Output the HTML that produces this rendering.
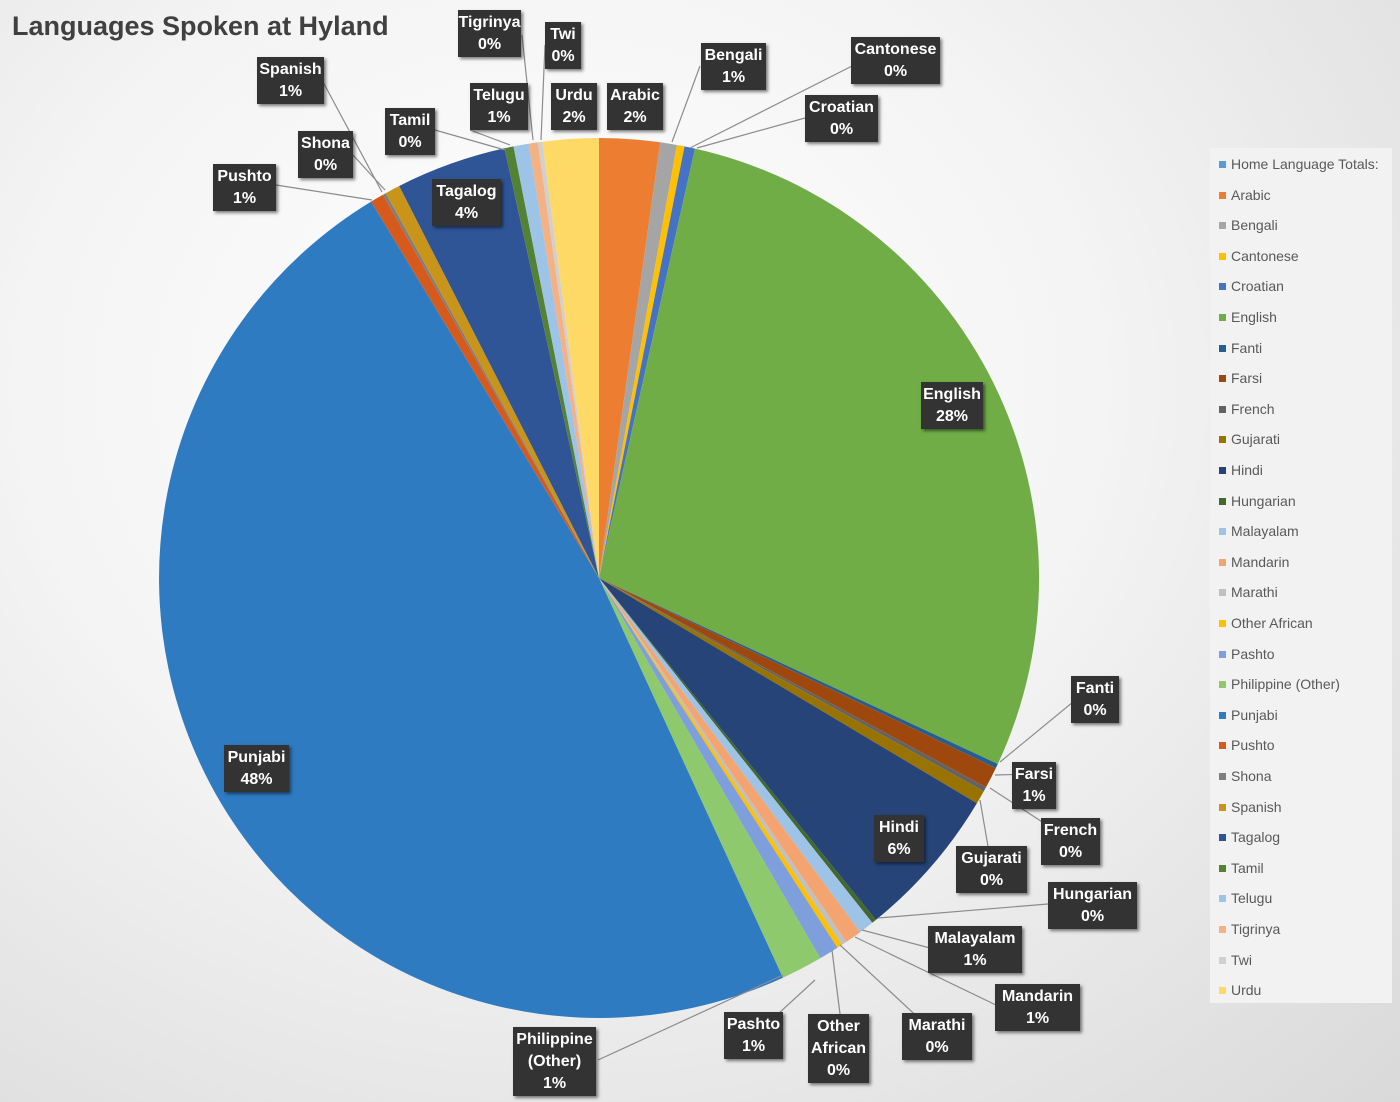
<!DOCTYPE html>
<html><head><meta charset="utf-8">
<style>
html,body{margin:0;padding:0}
body{width:1400px;height:1102px;position:relative;overflow:hidden;font-family:"Liberation Sans",sans-serif;
background:radial-gradient(ellipse at 40% 35%,#ffffff 0%,#f4f4f4 45%,#d9d9d9 100%);}
.t{position:absolute;left:12px;top:11px;font-size:27px;font-weight:bold;color:#404040;}
.lb{position:absolute;background:#333;color:#fff;font-weight:bold;font-size:16px;line-height:22px;text-align:center;box-shadow:2px 2px 3px rgba(0,0,0,.5);padding:2px 0 1px;}
.lg{position:absolute;left:1210px;top:148px;width:182px;height:855px;background:#f2f2f2;}
.li{position:absolute;left:9px;font-size:14px;color:#595959;white-space:nowrap}
.li i{display:inline-block;width:7px;height:7px;margin-right:5px;vertical-align:1px}
svg{position:absolute;left:0;top:0}
</style></head><body>
<svg id="s" width="1400" height="1102"></svg>
<div class="t">Languages Spoken at Hyland</div>
<div class="lg" id="lg"></div>
<div id="labs"></div>
<script>
var C=[["Arabic",8,"#ED7D31"],["Bengali",10.2,"#A5A5A5"],["Cantonese",11.2,"#FFC000"],["Croatian",12.6,"#4472C4"],["English",115,"#70AD47"],["Fanti",115.6,"#255E91"],["Farsi",118.4,"#9E480E"],["French",119,"#636363"],["Gujarati",120.8,"#997300"],["Hindi",141,"#264478"],["Hungarian",141.6,"#43682B"],["Malayalam",143.6,"#9DC3E6"],["Mandarin",145.8,"#F4A470"],["Marathi",146.5,"#C0C0C0"],["Other African",147.2,"#FFC000"],["Pashto",149.8,"#7F9FDC"],["Philippine (Other)",155.3,"#8FC96E"],["Punjabi",328.8,"#2E7BC2"],["Pushto",330.6,"#D55A1B"],["Shona",331,"#7F7F7F"],["Spanish",333,"#C8951A"],["Tagalog",347.6,"#2F5597"],["Tamil",348.8,"#548235"],["Telugu",350.8,"#9DC3E6"],["Tigrinya",352,"#F4B183"],["Twi",352.6,"#D0D0D0"],["Urdu",360,"#FFD966"]];
var cx=599,cy=578,r=440,s="",a0=0;
function p(a){a=a*Math.PI/180;return (cx+r*Math.sin(a)).toFixed(1)+","+(cy-r*Math.cos(a)).toFixed(1);}
C.forEach(function(c){var a1=c[1];s+='<path d="M'+cx+','+cy+' L'+p(a0)+' A'+r+','+r+' 0 '+((a1-a0)>180?1:0)+' 1 '+p(a1)+' Z" fill="'+c[2]+'"/>';a0=a1;});
var L=[[1090,688,1000,762],[1035,774,995,775],[1070,840,990,788],[990,858,980,800],[1048,904,878,918],[930,948,862,930],[998,1006,855,937],[938,1036,840,945],[840,1014,832,950],[754,1036,815,980],[598,1060,783,975],[860,62,690,148],[805,118,697,148],[700,66,672,142],[522,35,533,140],[545,45,541,140],[470,130,510,145],[435,130,505,150],[322,80,382,192],[353,155,385,190],[276,185,372,200]];
L.forEach(function(l){s+='<polyline points="'+l[0]+','+l[1]+' '+l[2]+','+l[3]+'" fill="none" stroke="#8c8c8c" stroke-width="1.2"/>';});
document.getElementById("s").innerHTML=s;
var B=[["Tigrinya<br>0%",458,10,63],["Twi<br>0%",545,22,36],["Spanish<br>1%",257,57,67],["Bengali<br>1%",701,43,65],["Cantonese<br>0%",851,37,89],["Telugu<br>1%",470,83,58],["Urdu<br>2%",551,83,46],["Arabic<br>2%",607,83,56],["Croatian<br>0%",805,95,73],["Tamil<br>0%",385,108,50],["Shona<br>0%",298,131,55],["Pushto<br>1%",213,164,63],["Tagalog<br>4%",432,179,69],["English<br>28%",921,382,62],["Fanti<br>0%",1071,676,48],["Farsi<br>1%",1012,762,44],["French<br>0%",1041,818,59],["Gujarati<br>0%",956,846,71],["Hindi<br>6%",874,815,50],["Hungarian<br>0%",1048,882,89],["Malayalam<br>1%",928,926,94],["Mandarin<br>1%",995,984,85],["Marathi<br>0%",902,1013,70],["Other<br>African<br>0%",808,1014,61],["Pashto<br>1%",724,1012,59],["Philippine<br>(Other)<br>1%",513,1027,83],["Punjabi<br>48%",224,745,65]];
var h="";B.forEach(function(b){h+='<div class="lb" style="left:'+b[1]+'px;top:'+b[2]+'px;width:'+b[3]+'px">'+b[0]+'</div>';});
document.getElementById("labs").innerHTML=h;
var g='<div class="li" style="top:8px"><i style="background:#5B9BD5"></i>Home Language Totals:</div>';
C.forEach(function(c,i){g+='<div class="li" style="top:'+(8+30.6*(i+1)).toFixed(1)+'px"><i style="background:'+c[2]+'"></i>'+c[0]+'</div>';});
document.getElementById("lg").innerHTML=g;
</script>
</body></html>
